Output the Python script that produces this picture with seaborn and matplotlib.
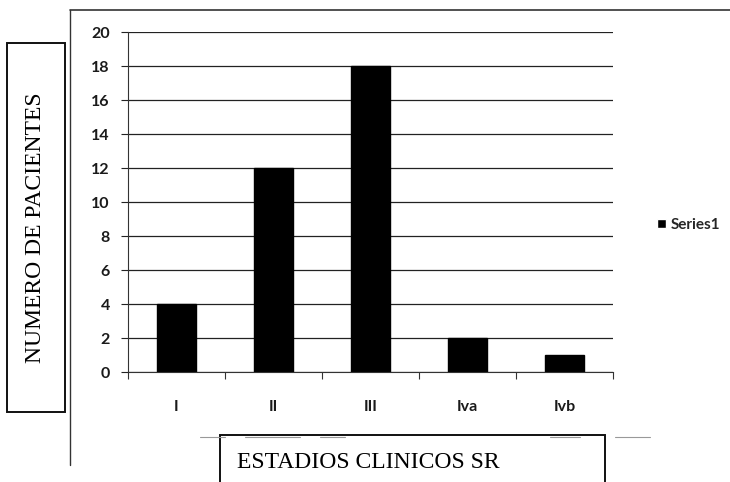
import matplotlib
matplotlib.use("Agg")
import matplotlib.pyplot as plt
from matplotlib.patches import Rectangle
from matplotlib.lines import Line2D
from matplotlib.ticker import FixedLocator
import seaborn as sns
import pandas as pd

estadios = ["I", "II", "III", "Iva", "Ivb"]
pacientes = [4, 12, 18, 2, 1]
serie = "Series1"
y_ticks = [0, 2, 4, 6, 8, 10, 12, 14, 16, 18, 20]

sns.set_style("white")
plt.rcParams["font.family"] = ["Lato", "DejaVu Sans"]

df = pd.DataFrame({"estadio": estadios, "pacientes": pacientes, "serie": serie})

fig = plt.figure(figsize=(7.3, 4.82), dpi=100)
ax = fig.add_axes([128 / 730, 1 - 372 / 482, 485 / 730, 340 / 482])

sns.barplot(data=df, x="estadio", y="pacientes", hue="serie", palette=["#000000"],
            width=0.40, ax=ax, legend=False, edgecolor="#000000")

ax.set_xlim(-0.5, 4.5)
ax.set_ylim(0, 20)
ax.set_yticks(y_ticks)
ax.set_yticklabels([str(t) for t in y_ticks])
ax.yaxis.grid(True, color="#222222", linewidth=0.9)
ax.set_axisbelow(True)
for s in ["top", "right"]:
    ax.spines[s].set_visible(False)
for s in ["left", "bottom"]:
    ax.spines[s].set_color("#333333")
    ax.spines[s].set_linewidth(0.8)
ax.xaxis.set_minor_locator(FixedLocator([-0.5, 0.5, 1.5, 2.5, 3.5, 4.5]))
ax.tick_params(axis="x", which="minor", length=5, width=0.8, color="#333333", bottom=True)
ax.tick_params(axis="y", length=5, width=0.8, color="#222222", pad=8, labelsize=11.5, left=True)
ax.tick_params(axis="x", which="major", length=0, pad=20, labelsize=11.5)
for lbl in ax.get_xticklabels() + ax.get_yticklabels():
    lbl.set_fontweight("bold")
    lbl.set_color("#1a1a1a")
ax.set_xlabel("")
ax.set_ylabel("")

# legend on the right
leg_handle = Rectangle((0, 0), 1, 1, facecolor="#000000")
fig.legend([leg_handle], [serie], loc="center left", bbox_to_anchor=(643 / 730, 1 - 225 / 482),
           frameon=False, handlelength=0.6, handleheight=0.6, handletextpad=0.3,
           prop={"family": "Lato", "weight": "bold", "size": 11})

# outer chart frame (top and left edges)
fig.add_artist(Line2D([70 / 730, 1.0], [1 - 10 / 482, 1 - 10 / 482], color="#333333", lw=1.2))
fig.add_artist(Line2D([70 / 730, 70 / 730], [1 - 10 / 482, 1 - 465 / 482], color="#333333", lw=1.0))

# faint dashes under the category labels
for x0, x1 in [(200, 225), (245, 300), (320, 345), (550, 580), (615, 650)]:
    fig.add_artist(Line2D([x0 / 730, x1 / 730], [1 - 437 / 482] * 2, color="#999999", lw=0.8))

# boxed y-axis title
fig.add_artist(Rectangle((7 / 730, 1 - 412 / 482), 58 / 730, 369 / 482, transform=fig.transFigure,
                         facecolor="white", edgecolor="#111111", lw=1.4))
fig.text(36 / 730, 1 - 228 / 482, "NUMERO DE PACIENTES", rotation=90, ha="center", va="center",
         family="Liberation Serif", fontsize=17, color="#000000")

# boxed x-axis title
fig.add_artist(Rectangle((220 / 730, 1 - 490 / 482), 385 / 730, 55 / 482, transform=fig.transFigure,
                         facecolor="white", edgecolor="#111111", lw=1.4, clip_on=False))
fig.text(237 / 730, 1 - 463 / 482, "ESTADIOS CLINICOS SR", ha="left", va="center",
         family="Liberation Serif", fontsize=17, color="#000000")

fig.savefig("out.png", dpi=100)
